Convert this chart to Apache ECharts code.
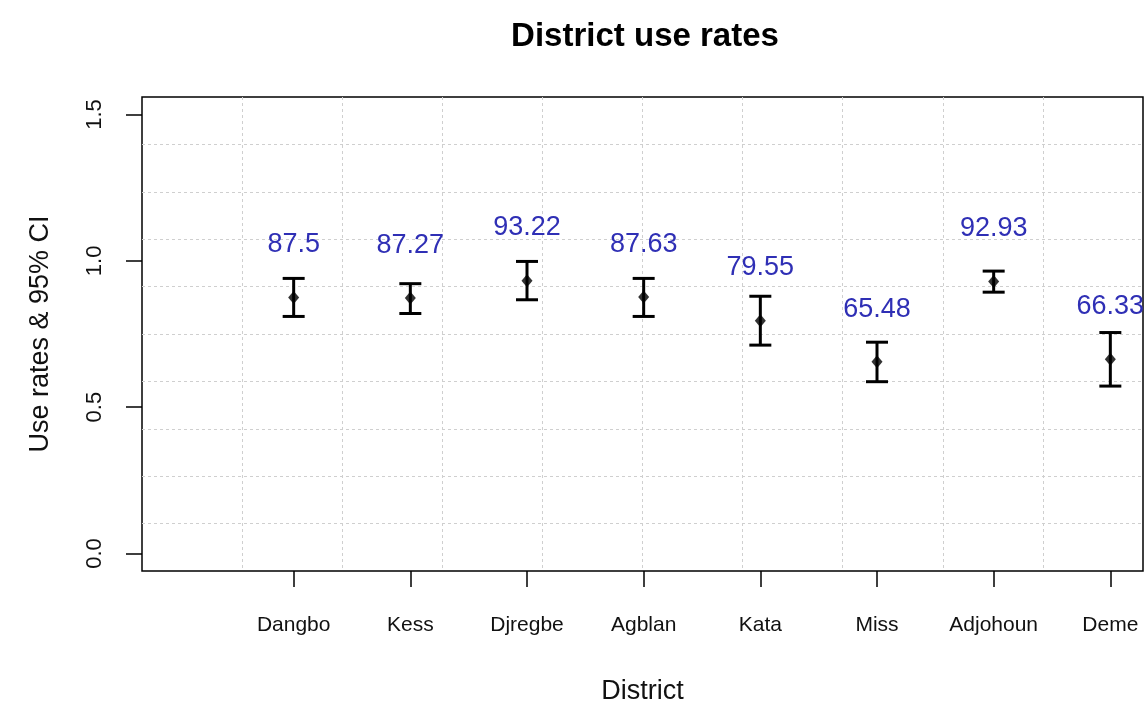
<!DOCTYPE html>
<html>
<head>
<meta charset="utf-8">
<title>District use rates</title>
<script src="https://cdn.jsdelivr.net/npm/echarts@6/dist/echarts.min.js"></script>
<style>
  html, body { margin: 0; padding: 0; background: #fff; }
  #chart { width: 1146px; height: 702px; }
</style>
</head>
<body>
<div id="chart"></div>
<script>
// District names, in plotting order (x = 1..8)
const districts = ['Dangbo', 'Kess', 'Djregbe', 'Agblan', 'Kata', 'Miss', 'Adjohoun', 'Deme'];
// Use rate per district, in percent
const useRatePct = [87.5, 87.27, 93.22, 87.63, 79.55, 65.48, 92.93, 66.33];
// 95% confidence interval bounds, as proportions
const ciLower = [0.81, 0.82, 0.867, 0.81, 0.712, 0.587, 0.893, 0.572];
const ciUpper = [0.94, 0.922, 0.998, 0.94, 0.879, 0.722, 0.965, 0.755];
// Y axis ticks
const yTicks = [0, 0.5, 1.0, 1.5];

const FONT = '"Liberation Sans", Arial, Helvetica, sans-serif';
const LABEL_LIFT = 0.18;      // value labels sit this far above the point (data units)
const CAP_HALF = 11;          // half-width of the error-bar caps, px

const xPos = districts.map((_, i) => i + 1);
const barData = xPos.map((x, i) => [x, ciLower[i], ciUpper[i], useRatePct[i] / 100, useRatePct[i]]);

const chart = echarts.init(document.getElementById('chart'), null, { renderer: 'canvas' });

const gridLineStyle = { color: '#cfcfcf', width: 1, type: [3, 3] };

const option = {
  backgroundColor: '#fff',
  animation: false,
  title: {
    text: 'District use rates',
    left: 640,
    top: 15,
    textAlign: 'center',
    textStyle: { fontFamily: FONT, fontSize: 33, fontWeight: 'bold', color: '#000' }
  },
  grid: {
    left: 142, right: 3, top: 97, bottom: 131,
    outerBoundsMode: 'none',
    containLabel: false,
    show: true, borderColor: '#000', borderWidth: 1.5, backgroundColor: 'transparent'
  },
  xAxis: [
    {
      type: 'value', min: -0.30, max: 8.28,
      name: 'District', nameLocation: 'middle', nameGap: 107,
      nameTextStyle: { fontFamily: FONT, fontSize: 27, color: '#111' },
      axisLine: { show: false, onZero: false },
      axisTick: { show: true, length: 16, customValues: xPos, lineStyle: { color: '#000', width: 1.5 } },
      axisLabel: {
        show: true, customValues: xPos, margin: 44,
        formatter: v => districts[Math.round(v) - 1] || '',
        fontFamily: FONT, fontSize: 21, color: '#111'
      },
      splitLine: { show: false }
    },
    {
      // ten equal cells for the dotted background grid
      type: 'value', min: 0, max: 10, interval: 1, position: 'top',
      axisLine: { show: false, onZero: false }, axisTick: { show: false }, axisLabel: { show: false },
      splitLine: { show: true, showMinLine: false, showMaxLine: false, lineStyle: gridLineStyle }
    }
  ],
  yAxis: [
    {
      type: 'value', min: -0.06, max: 1.56,
      name: 'Use rates & 95% CI', nameLocation: 'middle', nameGap: 88,
      nameTextStyle: { fontFamily: FONT, fontSize: 27, color: '#111' },
      axisLine: { show: false, onZero: false },
      axisTick: { show: true, length: 16, customValues: yTicks, lineStyle: { color: '#000', width: 1.5 } },
      axisLabel: {
        show: true, customValues: yTicks, rotate: 90, margin: 36,
        formatter: v => Number(v).toFixed(1),
        fontFamily: FONT, fontSize: 22, color: '#111'
      },
      splitLine: { show: false }
    },
    {
      type: 'value', min: 0, max: 10, interval: 1, position: 'right',
      axisLine: { show: false, onZero: false }, axisTick: { show: false }, axisLabel: { show: false },
      splitLine: { show: true, showMinLine: false, showMaxLine: false, lineStyle: gridLineStyle }
    }
  ],
  series: [
    {
      // error bars with value labels
      type: 'custom',
      xAxisIndex: 0, yAxisIndex: 0,
      data: barData,
      clip: false,
      renderItem: function (params, api) {
        const x = api.value(0);
        const lo = api.coord([x, api.value(1)]);
        const hi = api.coord([x, api.value(2)]);
        const lab = api.coord([x, api.value(3) + LABEL_LIFT]);
        const stroke = { stroke: '#000', lineWidth: 3 };
        return {
          type: 'group',
          children: [
            { type: 'line', shape: { x1: lo[0], y1: lo[1], x2: hi[0], y2: hi[1] }, style: stroke },
            { type: 'line', shape: { x1: hi[0] - CAP_HALF, y1: hi[1], x2: hi[0] + CAP_HALF, y2: hi[1] }, style: stroke },
            { type: 'line', shape: { x1: lo[0] - CAP_HALF, y1: lo[1], x2: lo[0] + CAP_HALF, y2: lo[1] }, style: stroke },
            {
              type: 'text', x: lab[0], y: lab[1],
              style: {
                text: String(api.value(4)), fill: '#2f2fb5',
                font: '27px ' + FONT, align: 'center', verticalAlign: 'middle'
              }
            }
          ]
        };
      },
      z: 3
    },
    {
      // point estimates
      type: 'scatter',
      xAxisIndex: 0, yAxisIndex: 0,
      data: xPos.map((x, i) => [x, useRatePct[i] / 100]),
      symbol: 'diamond', symbolSize: [11, 13],
      itemStyle: { color: '#000' },
      z: 4
    }
  ]
};

chart.setOption(option);
</script>
</body>
</html>
